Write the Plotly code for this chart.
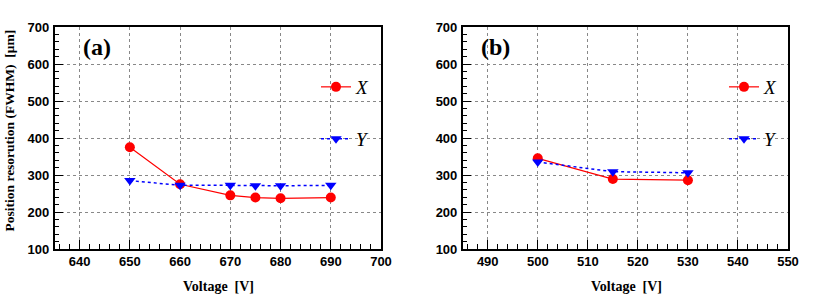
import plotly.graph_objects as go

# ---- data ----
volt_a = [650, 660, 670, 675, 680, 690]
x_res_a = [375, 275, 245, 239, 237, 239]
y_res_a = [285, 272, 272, 271, 271, 272]

volt_b = [500, 515, 530]
x_res_b = [345, 289, 286]
y_res_b = [335, 309, 306]

series_names = ["X", "Y"]
panel_labels = ["(a)", "(b)"]
x_title = "Voltage  [V]"
y_title = "Position resorution (FWHM)  [\u03bcm]"

W, H = 830, 297
def px(x): return x / W
def py(y): return 1 - y / H

RED = "#ff0000"
BLUE = "#0000ff"
SERIF = "'Liberation Serif', 'Times New Roman', serif"
SANS = "'Liberation Sans', Arial, sans-serif"

fig = go.Figure()

def add_panel(volts, xr, yr, xa, ya, leg_x, leg_y):
    fig.add_trace(go.Scatter(
        x=volts, y=xr, xaxis=xa, yaxis=ya, name=series_names[0],
        mode="lines+markers", line=dict(color=RED, width=1.2),
        marker=dict(symbol="circle", size=10, color=RED),
        legend=leg_x))
    fig.add_trace(go.Scatter(
        x=volts, y=yr, xaxis=xa, yaxis=ya, name=series_names[1],
        mode="lines+markers", line=dict(color=BLUE, width=1.5, dash="dot"),
        marker=dict(symbol="triangle-down", size=10, color=BLUE),
        legend=leg_y))

add_panel(volt_a, x_res_a, y_res_a, "x", "y", "legend", "legend2")
add_panel(volt_b, x_res_b, y_res_b, "x2", "y2", "legend3", "legend4")

tickfont = dict(family=SANS, size=13, color="black", weight="bold")

def xaxis_cfg(domain, rng, anchor):
    return dict(domain=domain, range=rng, anchor=anchor,
                tickmode="linear", tick0=0, dtick=10,
                ticks="inside", ticklen=9, tickwidth=1, tickcolor="black",
                minor=dict(dtick=2, ticks="inside", ticklen=5, tickcolor="black", showgrid=False),
                showgrid=True, gridcolor="#888888", griddash="dot", gridwidth=1,
                showline=True, linecolor="black", linewidth=1.5, mirror=True,
                tickfont=tickfont, zeroline=False, automargin=False)

def yaxis_cfg(anchor):
    return dict(domain=[py(249), py(27)], range=[100, 700], anchor=anchor,
                tickmode="linear", tick0=0, dtick=100,
                ticks="inside", ticklen=9, tickwidth=1, tickcolor="black",
                minor=dict(dtick=20, ticks="inside", ticklen=5, tickcolor="black", showgrid=False),
                showgrid=True, gridcolor="#888888", griddash="dot", gridwidth=1,
                showline=True, linecolor="black", linewidth=1.5, mirror=True,
                tickfont=tickfont, zeroline=False, ticklabelstandoff=1, automargin=False)

legfont = dict(family=SERIF, size=19, color="black", style="italic")
def leg(xp, yp):
    return dict(x=px(xp), y=py(yp), xanchor="left", yanchor="middle",
                bgcolor="rgba(0,0,0,0)", borderwidth=0, font=legfont,
                itemwidth=30, tracegroupgap=0)

annots = []
for lbl, xc in zip(panel_labels, [97, 495]):
    annots.append(dict(text="<b>%s</b>" % lbl, x=px(xc), y=py(47), xref="paper", yref="paper",
                       showarrow=False, xanchor="center", yanchor="middle",
                       font=dict(family=SERIF, size=24, color="black")))
for xc in [218, 626]:
    annots.append(dict(text="<b>%s</b>" % x_title, x=px(xc), y=py(286), xref="paper", yref="paper",
                       showarrow=False, xanchor="center", yanchor="middle",
                       font=dict(family=SERIF, size=14, color="black")))
annots.append(dict(text="<b>%s</b>" % y_title, x=px(8.5), y=py(131), xref="paper", yref="paper",
                   showarrow=False, xanchor="center", yanchor="middle", textangle=-90,
                   font=dict(family=SERIF, size=13.5, color="black")))

fig.update_layout(
    width=W, height=H, margin=dict(l=0, r=0, t=0, b=0, autoexpand=False),
    paper_bgcolor="white", plot_bgcolor="white",
    xaxis=xaxis_cfg([px(54.5), px(381)], [635, 700], "y"),
    yaxis=yaxis_cfg("x"),
    xaxis2=xaxis_cfg([px(462.7), px(788)], [485, 550], "y2"),
    yaxis2=yaxis_cfg("x2"),
    legend=leg(316, 87), legend2=leg(316, 139),
    legend3=leg(724, 87), legend4=leg(724, 139),
    annotations=annots,
    showlegend=True,
)

fig.write_html("out.html", config={"displayModeBar": False},
               post_script="document.body.style.margin='0';document.body.style.padding='0';")
